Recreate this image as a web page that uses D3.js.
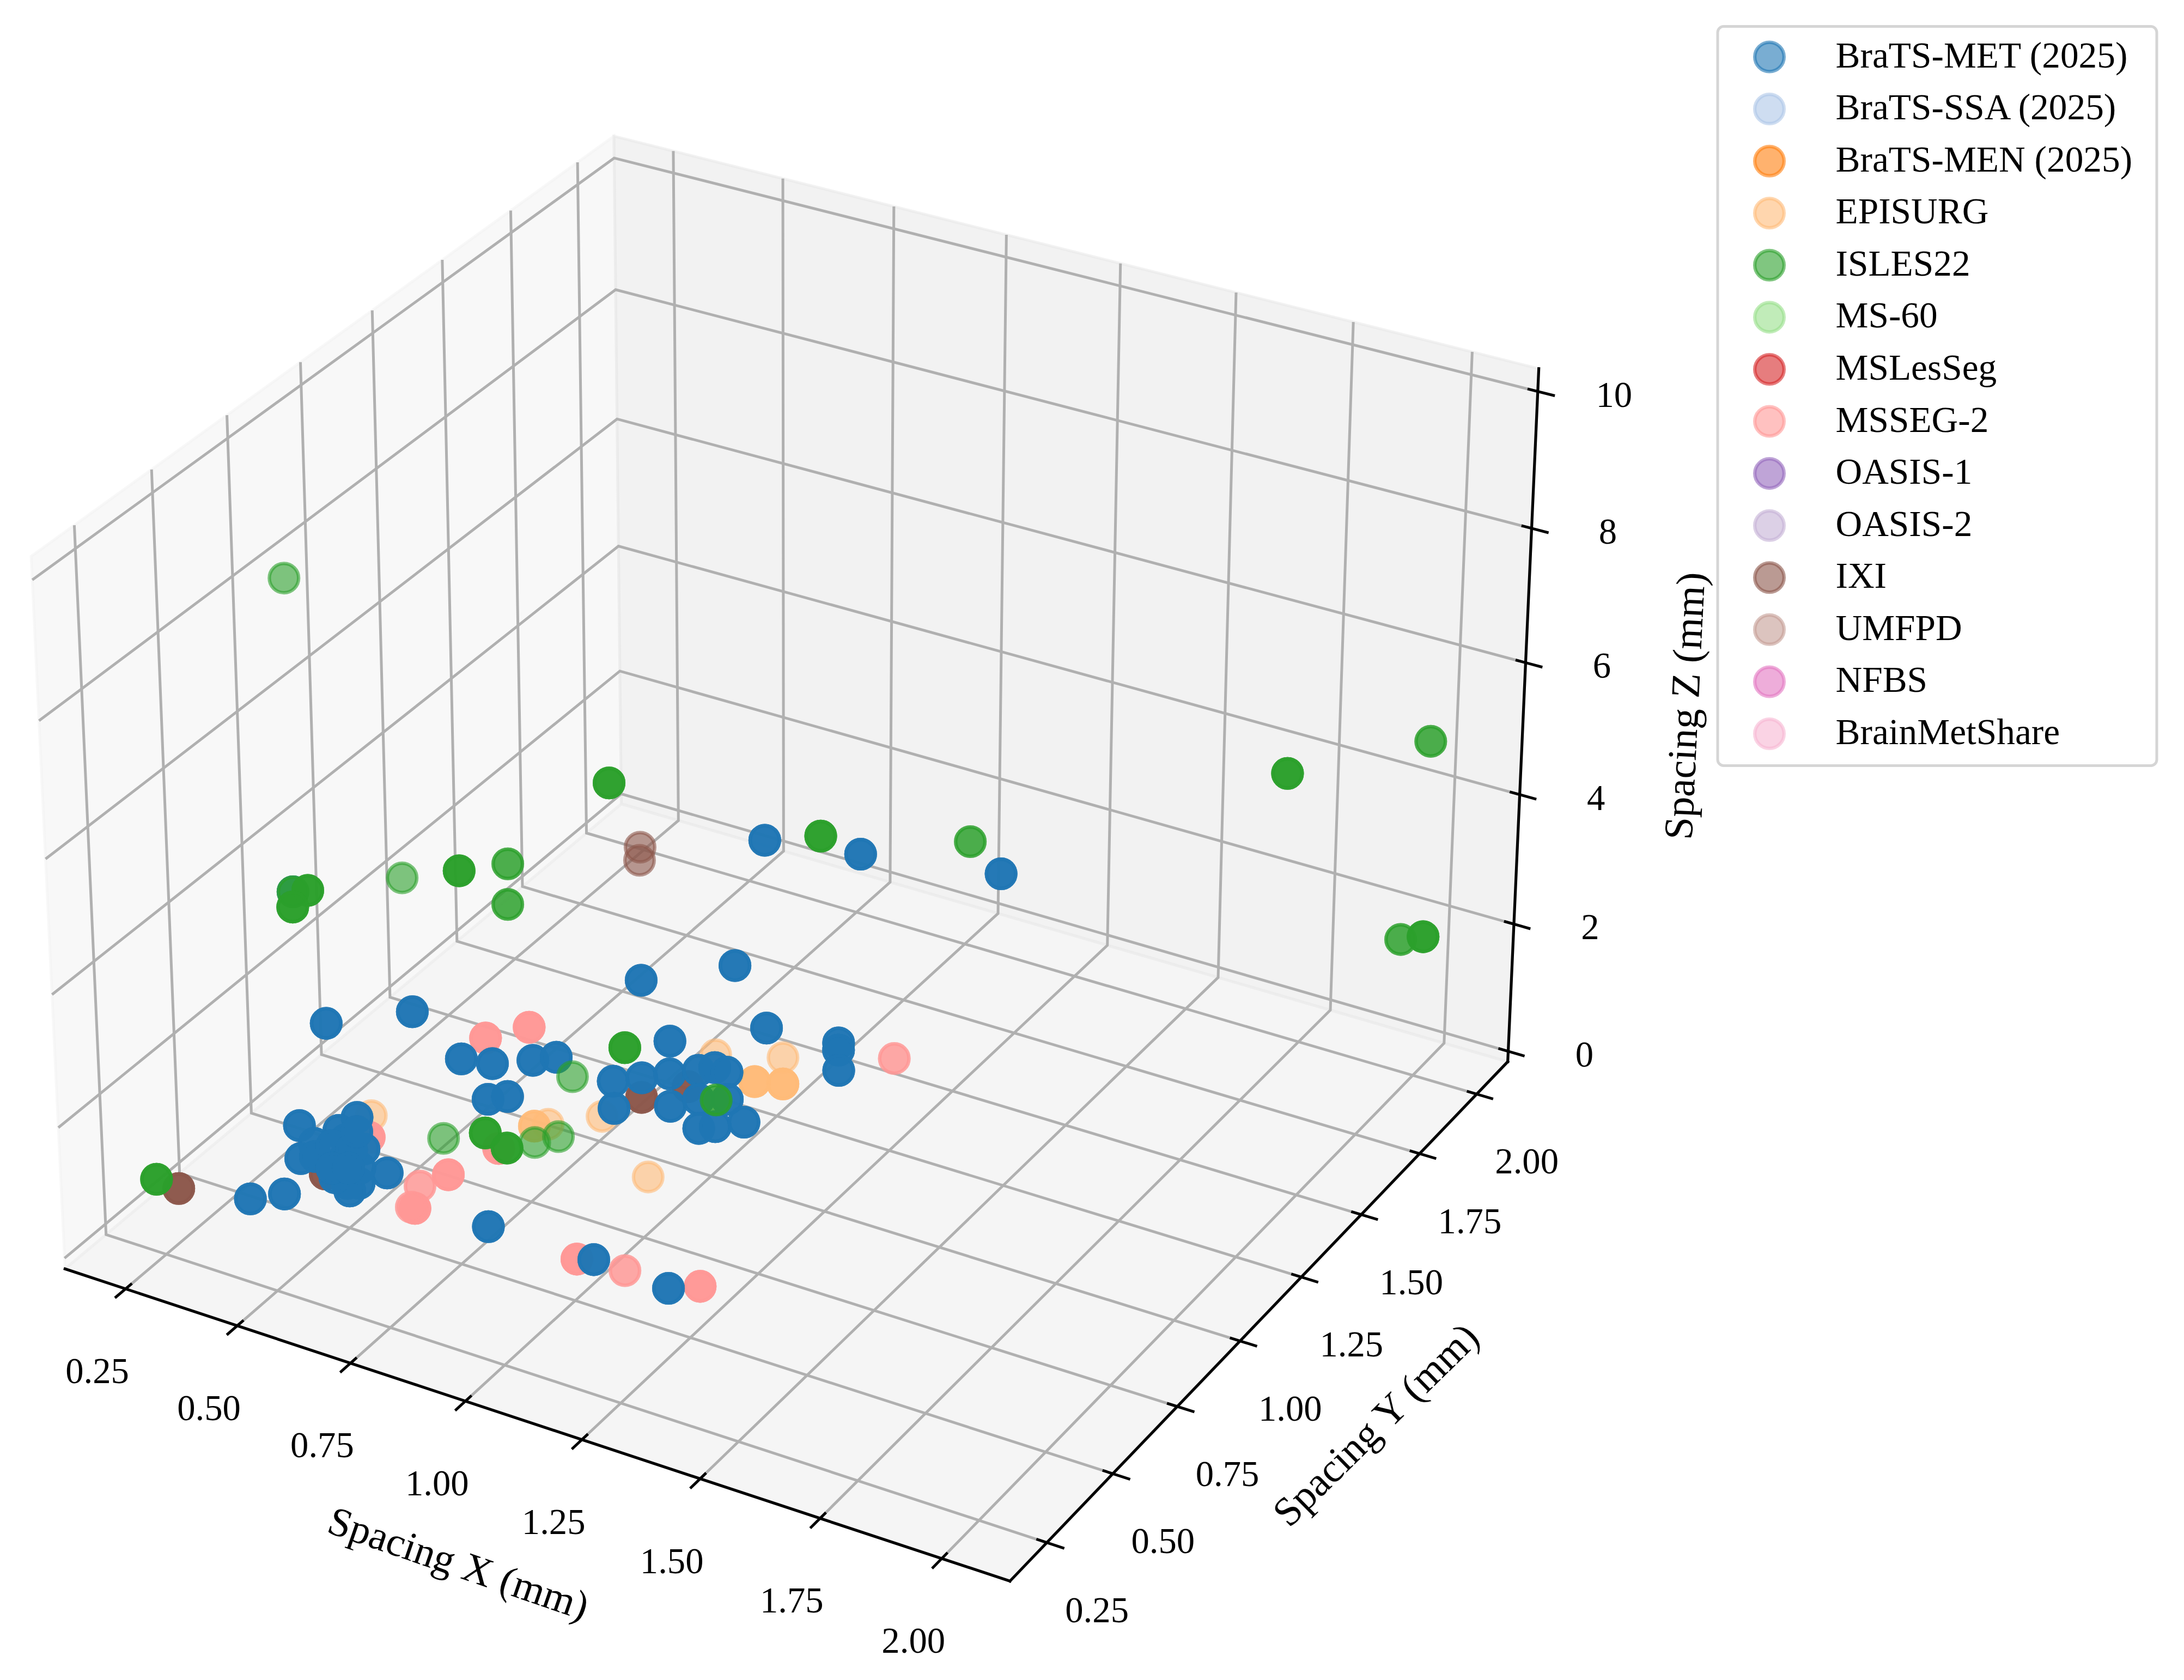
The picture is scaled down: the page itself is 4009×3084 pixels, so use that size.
<!DOCTYPE html>
<html><head><meta charset="utf-8">
<style>html,body{margin:0;padding:0;background:#fff}svg{display:block}text{font-family:"Liberation Serif",serif;fill:#000}</style>
<script src="https://cdn.jsdelivr.net/npm/d3@7"></script></head><body>
<script>
// ---------- data ----------
const seriesNames=["BraTS-MET (2025)","BraTS-SSA (2025)","BraTS-MEN (2025)","EPISURG","ISLES22","MS-60","MSLesSeg","MSSEG-2","OASIS-1","OASIS-2","IXI","UMFPD","NFBS","BrainMetShare"];
const seriesColors=["#1f77b4","#aec7e8","#ff7f0e","#ffbb78","#2ca02c","#98df8a","#d62728","#ff9896","#9467bd","#c5b0d5","#8c564b","#c49c94","#e377c2","#f7b6d2"];
const xTicks=[0.25,0.5,0.75,1,1.25,1.5,1.75,2];
const yTicks=[0.25,0.5,0.75,1,1.25,1.5,1.75,2];
const zTicks=[0,2,4,6,8,10];
const xLimits=[0.113,2.1385], yLimits=[0.113,2.1385], zLimits=[-0.165,10.33];

const metX=[.503,.564,.625,.658,.625,.652,.798,.839,.878,.919,.941,.970,.850,.939,.973,1.020,1.026,1.050,1.089,1.102,1.115,1.152,.954,.817,.862,1.090,1.259,.426,.472,.599,.365,.444,.424,.431,.468,.516,.502,.451,.554,.573,.572,.439,.545,.523,.457,.497,.471,.500,.527,.471,.588,.901,1.027,1.090,1.271,1.533,.428];
const metY=[.899,.914,.963,.995,.800,.827,.975,1.013,1.052,1.091,1.115,1.112,.892,.952,1.000,1.028,.911,.932,.973,1.312,1.289,1.225,1.290,1.155,.420,.422,.408,.279,.325,.483,.541,.620,.502,.444,.543,.532,.486,.464,.415,.426,.395,.564,.472,.420,.512,.518,.577,.445,.461,.484,.600,.912,1.047,1.052,1.097,1.165,.451];
const metZ=[.97,.97,.97,.97,.97,.97,.97,.97,.97,.97,.97,.97,.97,.97,.97,.97,.97,.97,.97,.97,.97,.97,.97,.97,.97,.97,.97,.97,.97,.97,.97,.97,.97,.97,.97,.97,.97,.97,.97,.97,.97,.97,.97,.97,.97,.97,.97,.97,.97,2.97,2.97,2.97,2.97,4.97,4.97,4.97,4.97];
const metN=[4,4,4,4,4,4,4,4,4,4,4,4,4,4,4,4,4,4,4,4,4,4,4,4,4,4,4,4,4,4,4,4,4,4,4,4,4,4,4,4,4,4,4,4,4,4,4,4,4,4,4,4,4,4,4,4,2];

const episurgX=[.464,.771,.845,1.031,.919,1.036,.752,1.033,1.084];
const episurgY=[.639,.781,.856,.716,1.156,1.212,.762,1.109,1.129];
const episurgZ=[.97,.97,.97,.97,.97,.97,.97,.97,.97];
const episurgN=[1,1,1,1,1,1,3,4,4];

const islesX=[.437,2.004,1.823,1.173,1.426,1.971,2.004,.858,.428,.449,.458,.576,.654,.719,.797,.754,.722,1.003,.626,.684,.748,.783,.811,.236];
const islesY=[.441,2.014,1.767,1.118,1.240,1.983,2.014,.875,.451,.469,.404,.595,.670,.737,.611,1.091,.950,1.015,.639,.695,.670,.713,.753,.248];
const islesZ=[9.57,4.97,4.97,4.97,4.97,1.97,1.97,5.97,4.97,4.97,4.97,4.97,4.97,4.97,4.97,.97,.97,.97,.97,.97,.97,.97,.97,.97];
const islesN=[1,2,4,4,2,2,4,4,2,4,4,1,4,2,2,4,1,2,1,4,4,1,1,4];

const mssegX=[.503,.555,1.223,.502,.735,.677,.702,.710,.702,1.062,1.159,1.306];
const mssegY=[.987,1.063,1.316,.572,.661,.475,.535,.405,.405,.408,.419,.443];
const mssegZ=[.97,.97,.97,.97,.97,.97,.97,.97,.97,.97,.97,.97];
const mssegN=[4,4,2,4,4,2,4,4,2,4,2,4];

const ixiX=[.290,.500,.875,.932,.901,.925];
const ixiY=[.242,.422,.952,1.030,.913,.871];
const ixiZ=[.97,.97,.97,.97,4.97,4.97];
const ixiN=[4,4,4,4,1,1];

// back-to-front drawing order of the series that have visible points
const drawn=[
 {name:"EPISURG",x:episurgX,y:episurgY,z:episurgZ,n:episurgN},
 {name:"MSSEG-2",x:mssegX,y:mssegY,z:mssegZ,n:mssegN},
 {name:"IXI",x:ixiX,y:ixiY,z:ixiZ,n:ixiN},
 {name:"BraTS-MET (2025)",x:metX,y:metY,z:metZ,n:metN},
 {name:"ISLES22",x:islesX,y:islesY,z:islesZ,n:islesN}
];

// ---------- geometry ----------
const W=4009,H=3084;
const sX=d3.scaleLinear().domain(xLimits).range([-0.6535,0.6535]);
const sY=d3.scaleLinear().domain(yLimits).range([-0.6535,0.6535]);
const sZ=d3.scaleLinear().domain(zLimits).range([-0.49,0.49]);
const el=30*Math.PI/180, az=-60*Math.PI/180, dist=10;
const w3=[Math.cos(el)*Math.cos(az),Math.cos(el)*Math.sin(az),Math.sin(el)];
const u3=[-Math.sin(az),Math.cos(az),0];
const v3=[w3[1]*u3[2]-w3[2]*u3[1],w3[2]*u3[0]-w3[0]*u3[2],w3[0]*u3[1]-w3[1]*u3[0]];
const dot=(a,b)=>a[0]*b[0]+a[1]*b[1]+a[2]*b[2];
const SCALE=1519,CX=1470.3,CY=1506.1;
function proj(x,y,z){
  const p=[sX(x),sY(y),sZ(z)];
  const f=1-dot(w3,p)/dist;
  const squeeze=1-0.005*(p[2]+0.49)/0.98;
  return [CX+SCALE*squeeze*dot(u3,p)/f, CY-SCALE*dot(v3,p)/f];
}
const [x0,x1]=xLimits,[y0,y1]=yLimits,[z0,z1]=zLimits;
const dx=x1-x0,dy=y1-y0;

const svg=d3.select("body").append("svg").attr("width",W).attr("height",H).attr("viewBox",`0 0 ${W} ${H}`);
svg.append("rect").attr("width",W).attr("height",H).attr("fill","#fff");
const line=d3.line();

// panes
const panes=[
 {g:0.95,pts:[[x0,y0,z0],[x0,y1,z0],[x0,y1,z1],[x0,y0,z1]]},
 {g:0.90,pts:[[x0,y1,z0],[x1,y1,z0],[x1,y1,z1],[x0,y1,z1]]},
 {g:0.925,pts:[[x0,y0,z0],[x1,y0,z0],[x1,y1,z0],[x0,y1,z0]]}
];
svg.append("g").selectAll("path").data(panes).join("path")
 .attr("d",d=>line(d.pts.map(p=>proj(...p)))+"Z")
 .attr("fill",d=>d3.rgb(d.g*255,d.g*255,d.g*255)).attr("fill-opacity",0.5)
 .attr("stroke",d=>d3.rgb(d.g*255,d.g*255,d.g*255)).attr("stroke-opacity",0.5).attr("stroke-width",5);

// grid
const grid=[];
xTicks.forEach(t=>grid.push([[t,y0,z0],[t,y1,z0],[t,y1,z1]]));
yTicks.forEach(t=>grid.push([[x1,t,z0],[x0,t,z0],[x0,t,z1]]));
zTicks.forEach(t=>grid.push([[x0,y0,t],[x0,y1,t],[x1,y1,t]]));
svg.append("g").selectAll("path").data(grid).join("path")
 .attr("d",d=>line(d.map(p=>proj(...p))))
 .attr("fill","none").attr("stroke","#b0b0b0").attr("stroke-width",5).attr("stroke-linejoin","miter");

// axis lines
const axes=[[[x0,y0,z0],[x1,y0,z0]],[[x1,y0,z0],[x1,y1,z0]],[[x1,y1,z0],[x1,y1,z1]]];
svg.append("g").selectAll("path").data(axes).join("path")
 .attr("d",d=>line(d.map(p=>proj(...p))))
 .attr("fill","none").attr("stroke","#000").attr("stroke-width",5.2).attr("stroke-linecap","square");

// ticks
const IN=0.0105,OUT=0.0175;
const tickSegs=[];
xTicks.forEach(t=>tickSegs.push([[t,y0+IN*dy,z0],[t,y0-OUT*dy,z0]]));
yTicks.forEach(t=>tickSegs.push([[x1-IN*dx,t,z0],[x1+OUT*dx,t,z0]]));
zTicks.forEach(t=>tickSegs.push([[x1-IN*dx,y1,t],[x1+OUT*dx,y1,t]]));
svg.append("g").selectAll("path").data(tickSegs).join("path")
 .attr("d",d=>line(d.map(p=>proj(...p))))
 .attr("fill","none").attr("stroke","#000").attr("stroke-width",5);

// tick labels
const tickFont=66.7;
function tickLabels(vals,pos,off,fmt){
  svg.append("g").selectAll("text").data(vals).join("text")
   .attr("x",d=>pos(d)[0]+off[0]).attr("y",d=>pos(d)[1]+off[1]).attr("dy","0.33em")
   .attr("text-anchor","middle").attr("font-size",tickFont).text(fmt);
}
const f2=d3.format(".2f");
tickLabels(xTicks,t=>proj(t,y0,z0),[-52,151],f2);
tickLabels(yTicks,t=>proj(x1,t,z0),[92,124],f2);
tickLabels(zTicks,t=>proj(x1,y1,t),[140,6],d3.format("d"));

// axis titles
const titles=[
 {t:"Spacing X (mm)",x:841,y:2872,r:19},
 {t:"Spacing Y (mm)",x:2527,y:2617,r:-44.5},
 {t:"Spacing Z (mm)",x:3095,y:1296,r:-87.2}
];
svg.append("g").selectAll("text").data(titles).join("text")
 .attr("transform",d=>`translate(${d.x},${d.y}) rotate(${d.r})`)
 .attr("dy","0.3em").attr("text-anchor","middle").attr("font-size",75).text(d=>d.t);

// points: each record is stacked n times, as overlapping cases are in the source
const R=26.9,SW=6.25;
const colorOf=d3.scaleOrdinal().domain(seriesNames).range(seriesColors);
drawn.forEach(s=>{
  const pts=s.x.flatMap((v,i)=>d3.range(s.n[i]).map(()=>({x:v,y:s.y[i],z:s.z[i]})));
  svg.append("g").selectAll("circle").data(pts).join("circle")
   .attr("cx",d=>proj(d.x,d.y,d.z)[0]).attr("cy",d=>proj(d.x,d.y,d.z)[1]).attr("r",R)
   .attr("fill",colorOf(s.name)).attr("fill-opacity",0.6)
   .attr("stroke",colorOf(s.name)).attr("stroke-opacity",0.6).attr("stroke-width",SW);
});

// legend
const lg=svg.append("g");
lg.append("rect").attr("x",3153).attr("y",48.5).attr("width",806).attr("height",1357).attr("rx",11)
 .attr("fill","#fff").attr("stroke","#d5d5d5").attr("stroke-width",5);
const ly=d3.scalePoint().domain(seriesNames).range([104.5,1347]);
lg.selectAll("circle").data(seriesNames).join("circle")
 .attr("cx",3248).attr("cy",d=>ly(d)).attr("r",R)
 .attr("fill",colorOf).attr("fill-opacity",0.6).attr("stroke",colorOf).attr("stroke-opacity",0.6).attr("stroke-width",SW);
lg.selectAll("text").data(seriesNames).join("text")
 .attr("x",3369.5).attr("y",d=>ly(d)+19).attr("font-size",67.4).text(d=>d);
</script></body></html>
